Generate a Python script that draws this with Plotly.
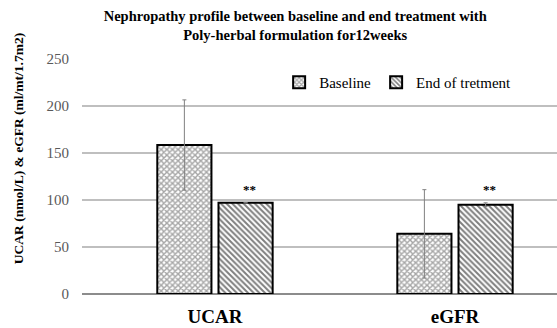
import plotly.graph_objects as go

categories = ["UCAR", "eGFR"]
baseline = [158.5, 64]
baseline_err = [48, 47]
end_treat = [97, 95]
end_err = [0, 2]
sig_labels = ["**", "**"]

SERIF = "Times New Roman, Liberation Serif, serif"

fig = go.Figure()
fig.add_trace(go.Bar(
    name="Baseline", x=categories, y=baseline,
    error_y=dict(type="data", array=baseline_err, color="#808080", thickness=1, width=2),
    marker=dict(color="white", line=dict(color="black", width=2),
                pattern=dict(shape="x", fgcolor="#4d4d4d", bgcolor="white", size=4, solidity=0.6)),
))
fig.add_trace(go.Bar(
    name="End of tretment", x=categories, y=end_treat,
    error_y=dict(type="data", array=end_err, color="#808080", thickness=1, width=2),
    marker=dict(color="white", line=dict(color="black", width=2),
                pattern=dict(shape="\\", fgcolor="black", bgcolor="white", size=4, solidity=0.5)),
))

for i, (v, e, s) in enumerate(zip(end_treat, end_err, sig_labels)):
    fig.add_annotation(x=i + 0.142, y=v + e, xref="x", yref="y", text="<b>" + s + "</b>", showarrow=False,
                       yshift=13, font=dict(family=SERIF, size=13, color="black"))

fig.add_annotation(x=-0.135, y=0.62, xref="paper", yref="paper",
                   text="<b>UCAR (nmol/L) &amp; eGFR (ml/mt/1.7m2)</b>",
                   showarrow=False, textangle=-90, xanchor="center", yanchor="middle",
                   font=dict(family=SERIF, size=13.5, color="black"))

fig.update_layout(
    width=557, height=328,
    margin=dict(l=82, r=0, t=59, b=34),
    paper_bgcolor="white", plot_bgcolor="white",
    barmode="group", bargap=0.49, bargroupgap=0.115,
    title=dict(text="<b>Nephropathy profile between baseline and end treatment with<br>Poly-herbal formulation for12weeks</b>",
               x=0.53, xanchor="center", xref="container", y=0.936, yanchor="middle", yref="container",
               font=dict(family=SERIF, size=14.5, color="black")),
    legend=dict(orientation="h", x=0.415, y=0.9, xanchor="left", yanchor="middle",
                font=dict(family=SERIF, size=15, color="black"), bgcolor="rgba(0,0,0,0)",
                itemwidth=30, traceorder="normal"),
    xaxis=dict(range=[-0.554, 1.425], showgrid=False, showline=False, ticks="",
               tickfont=dict(family=SERIF, size=19, color="black"), ticklabelstandoff=9),
    yaxis=dict(range=[0, 250], tickvals=[0, 50, 100, 150, 200, 250], showgrid=True,
               gridcolor="#bfbfbf", gridwidth=1.5, zeroline=True, zerolinecolor="#8c8c8c", zerolinewidth=1.5,
               showline=False, ticks="", tickfont=dict(family=SERIF, size=15, color="#595959"),
               ticklabelstandoff=12),
)

fig.update_xaxes(tickprefix="<b>", ticksuffix="</b>")

fig.write_html("out.html")
